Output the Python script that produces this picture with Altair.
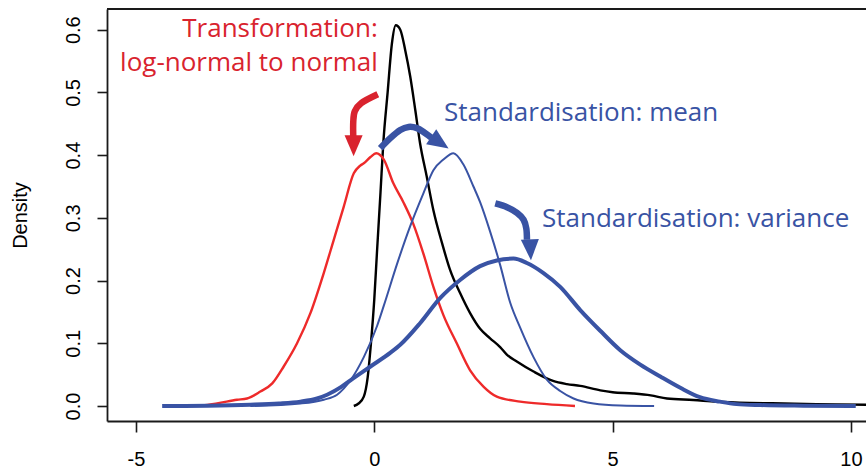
import altair as alt
import pandas as pd

# ---- series (x, density) ----
black_x = [-0.43, -0.33, -0.22, -0.14, -0.07, 0.0, 0.06, 0.13, 0.19, 0.28, 0.37, 0.45, 0.545, 0.65, 0.755,
           0.86, 0.96, 1.10, 1.24, 1.42, 1.59, 1.80, 2.01, 2.22, 2.43, 2.64, 2.78, 2.99, 3.34, 3.75, 4.04,
           4.32, 4.74, 5.0, 5.43, 5.8, 6.14, 6.69, 7.18, 7.88, 8.58, 9.28, 10.31, 10.8]
black_y = [0.0, 0.004, 0.015, 0.045, 0.10, 0.17, 0.25, 0.34, 0.42, 0.50, 0.578, 0.607, 0.60, 0.567, 0.525,
           0.472, 0.419, 0.366, 0.312, 0.26, 0.217, 0.18, 0.148, 0.123, 0.108, 0.094, 0.082, 0.071, 0.055, 0.04, 0.035,
           0.032, 0.025, 0.022, 0.02, 0.017, 0.012, 0.0096, 0.007, 0.005, 0.004, 0.003, 0.002, 0.0015]

red_x = [-4.3, -3.6, -3.3, -2.88, -2.67, -2.39, -2.14, -1.90, -1.62, -1.34, -1.06, -0.85, -0.64, -0.43, -0.3,
         -0.22, -0.08, 0.04, 0.2, 0.40, 0.61, 0.82, 1.03, 1.24, 1.45, 1.73, 2.01, 2.29, 2.57, 3.06, 3.62, 4.21]
red_y = [0.0, 0.001, 0.004, 0.01, 0.012, 0.023, 0.036, 0.063, 0.10, 0.148, 0.212, 0.265, 0.318, 0.371, 0.383,
         0.387, 0.397, 0.403, 0.393, 0.355, 0.325, 0.29, 0.243, 0.19, 0.145, 0.10, 0.057, 0.031, 0.015, 0.007, 0.003, 0.0]

mean_x = [-2.6, -1.55, -1.06, -0.78, -0.5, -0.22, 0.06, 0.2, 0.48, 0.75, 1.03, 1.24, 1.45, 1.66, 1.87, 2.08,
          2.22, 2.43, 2.64, 2.85, 3.06, 3.34, 3.62, 3.90, 4.18, 4.6, 5.16, 5.87]
mean_y = [0.0, 0.004, 0.01, 0.018, 0.041, 0.078, 0.128, 0.16, 0.227, 0.286, 0.339, 0.376, 0.393, 0.403, 0.385, 0.35,
          0.325, 0.278, 0.225, 0.165, 0.125, 0.078, 0.042, 0.024, 0.012, 0.004, 0.0008, 0.0]

var_x = [-4.45, -3.5, -2.6, -2.0, -1.55, -1.2, -0.99, -0.7, -0.5, -0.08, 0.34, 0.55, 0.96, 1.38, 1.80, 2.22,
         2.57, 2.92, 3.20, 3.55, 3.90, 4.32, 4.74, 5.16, 5.58, 6.0, 6.42, 6.83, 7.25, 7.6, 8.1, 9.0, 10.1]
var_y = [0.0, 0.0005, 0.002, 0.004, 0.007, 0.012, 0.018, 0.03, 0.041, 0.063, 0.085, 0.098, 0.132, 0.172, 0.201, 0.223,
         0.232, 0.235, 0.228, 0.212, 0.19, 0.153, 0.12, 0.089, 0.066, 0.047, 0.029, 0.014, 0.007, 0.003, 0.0015, 0.0005, 0.0]

# ---- axis ticks ----
x_ticks = [-5, 0, 5, 10]
y_ticks = [0.0, 0.1, 0.2, 0.3, 0.4, 0.5, 0.6]

# ---- annotation arrows (data units) ----
red_arrow_x = [0.073, -0.273, -0.409, -0.441, -0.441]
red_arrow_y = [0.497, 0.483, 0.470, 0.453, 0.429]
mean_arrow_x = [0.126, 0.336, 0.545, 0.720, 0.896, 1.070, 1.196]
mean_arrow_y = [0.411, 0.427, 0.440, 0.445, 0.443, 0.435, 0.428]
var_arrow_x = [2.538, 2.784, 2.994, 3.132, 3.189, 3.203]
var_arrow_y = [0.323, 0.317, 0.308, 0.297, 0.283, 0.265]
head_x = [-0.434, 1.376, 3.275]
head_y = [0.415, 0.420, 0.249]
head_angle = [0, 304, 357]
head_color = ["#D9232E", "#3953A4", "#3953A4"]

RED_LINE = "#EE2A2A"
RED_TEXT = "#D9232E"
BLUE = "#3953A4"

W, H = 759, 412
XDOM = [-5.607, 10.315]
YDOM = [-0.0239, 0.6330]

xs = alt.Scale(domain=XDOM, nice=False, zero=False)
ys = alt.Scale(domain=YDOM, nice=False, zero=False)

x_axis = alt.Axis(values=x_ticks, labelExpr="'' + datum.value", title=None, grid=False,
                  tickSize=11, labelPadding=17, labelFontSize=20, labelFont="Liberation Sans",
                  labelColor="black", tickColor="#1a1a1a", tickWidth=1.6, domainColor="#1a1a1a",
                  domainWidth=1.8, labelFlush=False)
y_axis = alt.Axis(values=y_ticks, format=".1f", title="Density", grid=False,
                  tickSize=10, labelPadding=18, labelFontSize=20, labelFont="Liberation Sans",
                  labelColor="black", labelAngle=270, labelAlign="center", labelBaseline="alphabetic",
                  tickColor="#1a1a1a", tickWidth=1.6, domainColor="#1a1a1a", domainWidth=1.8,
                  titleFont="Liberation Sans", titleFontSize=20, titleFontWeight="normal",
                  titleColor="black", titleAngle=270, titleAlign="center", titleBaseline="alphabetic",
                  titleX=-81, titleY=206, labelFlush=False)


def curve(xv, yv, color, width):
    df = pd.DataFrame({"x": xv, "y": yv})
    return alt.Chart(df).mark_line(color=color, strokeWidth=width, interpolate="monotone",
                                   clip=True, strokeJoin="round").encode(
        x=alt.X("x:Q", scale=xs, axis=x_axis),
        y=alt.Y("y:Q", scale=ys, axis=y_axis),
    )


def arrow(xv, yv, color):
    df = pd.DataFrame({"x": xv, "y": yv, "o": list(range(len(xv)))})
    return alt.Chart(df).mark_line(color=color, strokeWidth=6.5, interpolate="cardinal",
                                   strokeCap="butt").encode(
        x=alt.X("x:Q", scale=xs), y=alt.Y("y:Q", scale=ys), order="o:Q")


heads_df = pd.DataFrame({"x": head_x, "y": head_y, "a": head_angle, "c": head_color})
heads = alt.Chart(heads_df).mark_point(
    shape="M-0.86,-1 L0.86,-1 L0,1 Z", filled=True, size=441, opacity=1, strokeWidth=0
).encode(
    x=alt.X("x:Q", scale=xs), y=alt.Y("y:Q", scale=ys),
    angle=alt.Angle("a:Q", scale=None), color=alt.Color("c:N", scale=None),
)

labels_df = pd.DataFrame({
    "x": [0.073, 0.073, 1.462, 3.518],
    "y": [0.588, 0.534, 0.455, 0.285],
    "t": ["Transformation:", "log-normal to normal", "Standardisation: mean", "Standardisation: variance"],
    "c": [RED_TEXT, RED_TEXT, BLUE, BLUE],
    "al": ["right", "right", "left", "left"],
})
txt_right = alt.Chart(labels_df[labels_df.al == "right"]).mark_text(
    align="right", baseline="alphabetic", font="Open Sans", fontSize=26
).encode(x=alt.X("x:Q", scale=xs), y=alt.Y("y:Q", scale=ys), text="t:N", color=alt.Color("c:N", scale=None))
txt_left = alt.Chart(labels_df[labels_df.al == "left"]).mark_text(
    align="left", baseline="alphabetic", font="Open Sans", fontSize=26
).encode(x=alt.X("x:Q", scale=xs), y=alt.Y("y:Q", scale=ys), text="t:N", color=alt.Color("c:N", scale=None))

frame_top = alt.Chart(pd.DataFrame({"a": [0]})).mark_rule(color="#1a1a1a", strokeWidth=1.8).encode(
    x=alt.value(0), x2=alt.value(W), y=alt.value(0))

chart = alt.layer(
    curve(black_x, black_y, "black", 2.4),
    curve(red_x, red_y, RED_LINE, 2.4),
    curve(mean_x, mean_y, BLUE, 2.0),
    curve(var_x, var_y, BLUE, 4.0),
    arrow(red_arrow_x, red_arrow_y, RED_TEXT),
    arrow(mean_arrow_x, mean_arrow_y, BLUE),
    arrow(var_arrow_x, var_arrow_y, BLUE),
    heads, txt_right, txt_left, frame_top,
).properties(
    width=W, height=H,
    padding={"left": 107, "top": 9, "right": 0, "bottom": 50},
    autosize=alt.AutoSizeParams(type="none"),
    background="white",
).configure_view(strokeWidth=0)

chart.save("out.html", embed_options={"renderer": "svg", "actions": False})
